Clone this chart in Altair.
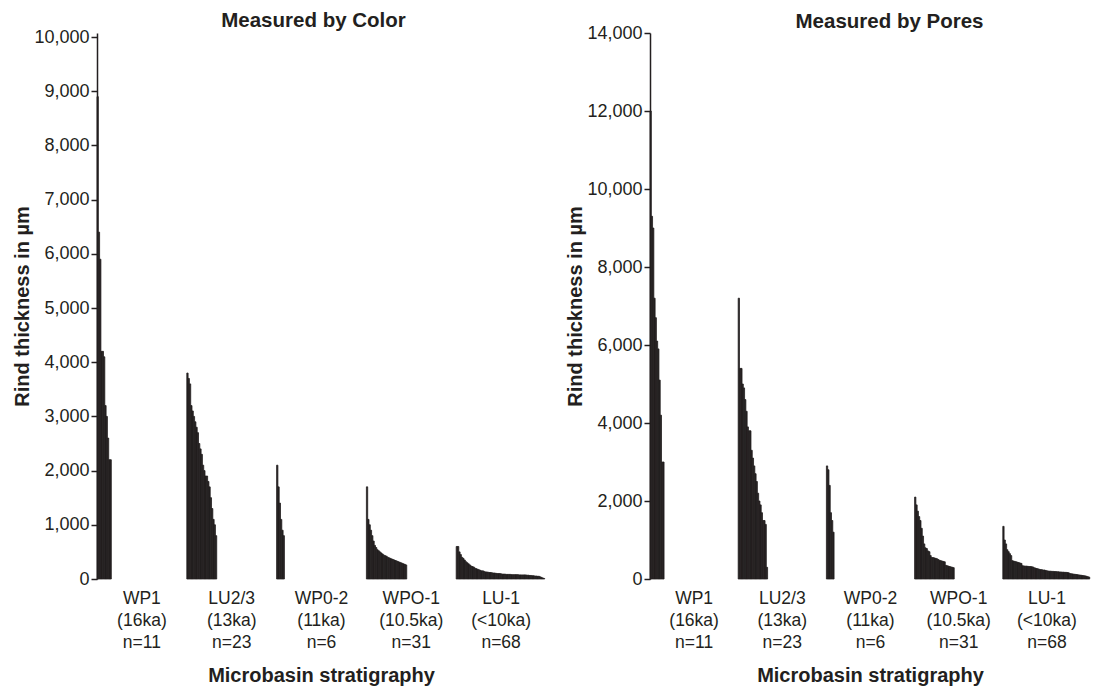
import altair as alt
import pandas as pd

INK = "#231f20"
FONT = "Liberation Sans"

groups = ["WP1", "LU2/3", "WP0-2", "WPO-1", "LU-1"]
ages = ["(16ka)", "(13ka)", "(11ka)", "(10.5ka)", "(<10ka)"]
counts = [11, 23, 6, 31, 68]
x_title = ["Microbasin stratigraphy"]
y_title = "Rind thickness in µm"
SLOT = 69  # sample positions reserved per group on the x axis

# ---- Measured by Color (µm), sorted descending within each group ----
color_wp1 = [8900, 6400, 5900, 4200, 4200, 4100, 3200, 3000, 2600, 2200, 2200]
color_lu23 = [3800, 3700, 3600, 3200, 3100, 3000, 2900, 2800, 2700, 2500, 2400, 2300,
              2100, 2000, 1900, 1900, 1800, 1700, 1500, 1300, 1100, 1000, 800]
color_wp02 = [2100, 1700, 1400, 1100, 900, 800]
color_wpo1 = [1700, 1100, 1000, 900, 800, 700, 620, 580, 540, 520, 500, 480, 460, 440,
              430, 420, 400, 390, 380, 370, 360, 350, 340, 330, 320, 310, 300, 290,
              280, 270, 260]
color_lu1 = [600, 600, 500, 450, 400, 380, 350, 320, 300, 280, 260, 240, 230, 220, 200,
             190, 180, 170, 160, 150, 150, 140,
             130, 130, 125, 120, 120, 115, 110, 110, 105, 100, 100, 100, 95,
             90, 90, 90, 85, 85, 85, 85, 80, 80, 80, 80, 80, 80, 75, 75, 75, 75, 75, 75,
             70, 70, 65, 65, 60, 60, 55, 55, 50, 50,
             40, 30, 20, 10]

# ---- Measured by Pores (µm) ----
pores_wp1 = [12000, 9300, 9000, 7200, 6700, 6100, 5900, 5100, 4200, 3000, 3000]
pores_lu23 = [7200, 5400, 5400, 5000, 4900, 4600, 4300, 3900, 3800, 3800, 3300, 3100,
              2900, 2700, 2500, 2200, 2000, 1900, 1700, 1500, 1500, 1400, 300]
pores_wp02 = [2900, 2800, 2400, 1700, 1500, 1200]
pores_wpo1 = [2100, 1900, 1740, 1600, 1500, 1300, 1100, 900, 800, 780, 720, 700, 600,
              550, 550, 540, 530, 520, 500,
              480, 470, 460, 450, 440,
              350, 340, 330, 320, 310, 300, 290]
pores_lu1 = [1350, 1000, 900,
             750, 700, 650, 600,
             470, 460, 450, 440, 430, 420, 410, 400,
             340, 335, 330, 330, 325, 320, 320, 315, 310,
             290, 280, 270, 260, 250, 240, 240, 230, 230, 220,
             210, 205, 200, 200, 195, 195, 190, 190, 185, 185, 180, 180, 175, 175, 170,
             170, 165, 160,
             140, 135, 130, 125, 120, 115, 110, 105, 100, 95, 90, 85, 80, 70, 60, 50]


def bars_frame(series):
    rows = []
    for g, vals in enumerate(series):
        for i, v in enumerate(vals):
            rows.append({"x": g * SLOT + i, "x2": g * SLOT + i + 1, "v": v, "group": groups[g]})
    return pd.DataFrame(rows)


labels_df = pd.DataFrame({
    "xc": [g * SLOT + SLOT / 2 for g in range(len(groups))],
    "label": [f"{groups[g]}\n{ages[g]}\nn={counts[g]}" for g in range(len(groups))],
})
xtitle_df = pd.DataFrame({"t": x_title})

H = 546


def panel(series, title, ymax, ytop, ystep, w, dx, toff):
    xscale = alt.Scale(domain=[0, SLOT * len(groups)], nice=False, zero=False)
    bars = alt.Chart(bars_frame(series)).mark_rect(
        color=INK, stroke=INK, strokeWidth=0.8
    ).encode(
        x=alt.X("x:Q", scale=xscale,
                axis=alt.Axis(values=[g * SLOT for g in range(len(groups) + 1)],
                              labels=False, grid=False, tickSize=6, tickWidth=1.5,
                              tickColor=INK, domainColor=INK, domainWidth=1.5,
                              title=None)),
        x2="x2:Q",
        y=alt.Y("v:Q", scale=alt.Scale(domain=[0, ytop], nice=False),
                axis=alt.Axis(values=list(range(0, ymax + 1, ystep)), format=",.0f",
                              grid=False, tickSize=6, tickWidth=1.5, tickColor=INK,
                              domainColor=INK, domainWidth=1.5, labelFontSize=18,
                              labelColor=INK, labelFont=FONT, labelPadding=2,
                              title=y_title, titleFontSize=20,
                              titleFontWeight="bold", titleColor=INK, titleFont=FONT,
                              titlePadding=1)),
    )
    text = alt.Chart(labels_df).mark_text(
        lineBreak="\n", baseline="top", align="center", fontSize=17.5, lineHeight=22,
        font=FONT, color=INK
    ).encode(
        x=alt.X("xc:Q", scale=xscale, axis=None),
        y=alt.value(H + 11),
        text="label:N",
    )
    xt = alt.Chart(xtitle_df).mark_text(
        baseline="middle", align="center", fontSize=20, fontWeight="bold",
        font=FONT, color=INK
    ).encode(
        x=alt.value(w / 2),
        y=alt.value(H + 97),
        text="t:N",
    )
    return alt.layer(bars, text, xt).properties(
        width=w, height=H,
        title=alt.Title(title, fontSize=20.5, fontWeight="bold", font=FONT, color=INK,
                        offset=toff, dx=dx),
    )


left = panel([color_wp1, color_lu23, color_wp02, color_wpo1, color_lu1],
             "Measured by Color", 10000, 10074, 1000, 449, -8, -3)
right = panel([pores_wp1, pores_lu23, pores_wp02, pores_wpo1, pores_lu1],
              "Measured by Pores", 14000, 14000, 2000, 441, 19, -8)

chart = alt.hconcat(left, right, spacing=19).properties(
    padding={"left": 4, "right": 0, "top": 2, "bottom": 0}
).configure_view(stroke=None)

chart.save("out.html", embed_options={"renderer": "svg", "actions": False})
